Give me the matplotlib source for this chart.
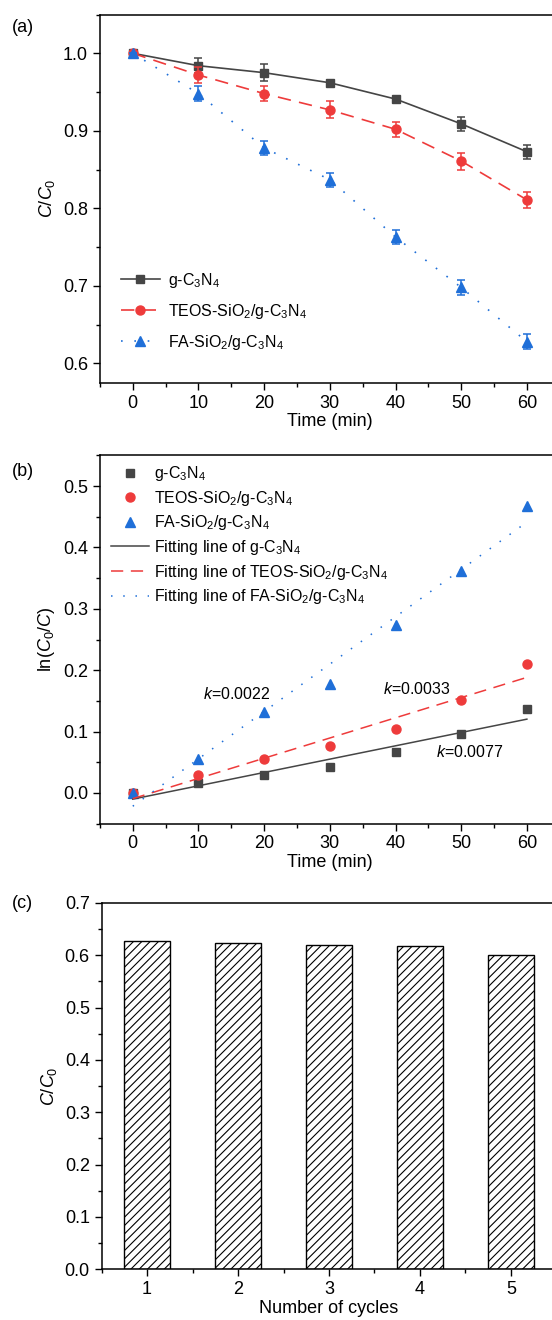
import numpy as np
import matplotlib
matplotlib.use("Agg")
import matplotlib.pyplot as plt
from matplotlib.ticker import MultipleLocator

plt.rcParams["font.family"] = ["Liberation Sans", "DejaVu Sans"]
plt.rcParams["mathtext.fontset"] = "custom"
plt.rcParams["mathtext.rm"] = "Liberation Sans"
plt.rcParams["mathtext.it"] = "Liberation Sans:italic"
plt.rcParams["mathtext.default"] = "regular"
plt.rcParams["hatch.linewidth"] = 0.8

# ---- data ----
time = [0, 10, 20, 30, 40, 50, 60]

# (a) C/C0 vs time
g_c = [1.0, 0.984, 0.975, 0.962, 0.941, 0.909, 0.873]
g_err = [0.0, 0.010, 0.011, 0.003, 0.003, 0.009, 0.009]
teos_c = [1.0, 0.972, 0.948, 0.927, 0.902, 0.861, 0.811]
teos_err = [0.0, 0.010, 0.010, 0.011, 0.010, 0.011, 0.010]
fa_c = [1.0, 0.948, 0.878, 0.837, 0.763, 0.698, 0.628]
fa_err = [0.0, 0.010, 0.009, 0.009, 0.0095, 0.0095, 0.0097]

# (b) ln(C0/C) vs time
g_ln = [0.0, 0.016, 0.029, 0.042, 0.066, 0.096, 0.137]
teos_ln = [0.0, 0.030, 0.055, 0.076, 0.105, 0.151, 0.210]
fa_ln = [0.0, 0.055, 0.132, 0.178, 0.274, 0.362, 0.468]
k_labels = ["0.0022", "0.0033", "0.0077"]

# (c) cycling
cycles = [1, 2, 3, 4, 5]
cycle_c = [0.628, 0.623, 0.619, 0.617, 0.601]

names = [r"g-C$_3$N$_4$", r"TEOS-SiO$_2$/g-C$_3$N$_4$", r"FA-SiO$_2$/g-C$_3$N$_4$"]
colors = ["#454545", "#ee3b3b", "#1f6fd8"]
markers = ["s", "o", "^"]
styles = ["-", (0, (8, 5)), (0, (1, 7))]

fig = plt.figure(figsize=(5.52, 13.2), dpi=100)
ax_a = fig.add_axes([0.181, 0.710, 0.833, 0.279])
ax_b = fig.add_axes([0.181, 0.376, 0.833, 0.279])
ax_c = fig.add_axes([0.184, 0.0384, 0.824, 0.2776])

tick_fs = 13
lab_fs = 13
leg_fs = 11.5


def style_axes(ax):
    for s in ax.spines.values():
        s.set_linewidth(1.1)
    ax.tick_params(which="major", direction="out", length=5, width=1.0, labelsize=tick_fs)
    ax.tick_params(which="minor", direction="out", length=3, width=1.0)


# ---- (a) ----
for y, e, n, c, m, ls in zip([g_c, teos_c, fa_c], [g_err, teos_err, fa_err],
                             names, colors, markers, styles):
    ms = 6.5 if m != "s" else 6
    ax_a.errorbar(time, y, yerr=e, color=c, linestyle="none", capsize=3,
                  elinewidth=1.1, capthick=1.1)
    ax_a.plot(time, y, color=c, marker=m, ms=ms, linestyle=ls, linewidth=1.2,
              label=n)
ax_a.set_xlim(-5, 65)
ax_a.set_ylim(0.575, 1.05)
ax_a.xaxis.set_major_locator(MultipleLocator(10))
ax_a.xaxis.set_minor_locator(MultipleLocator(5))
ax_a.yaxis.set_major_locator(MultipleLocator(0.1))
ax_a.yaxis.set_minor_locator(MultipleLocator(0.05))
ax_a.yaxis.set_major_formatter(plt.FormatStrFormatter("%.1f"))
ax_a.set_xlabel("Time (min)", fontsize=lab_fs, labelpad=1)
ax_a.set_ylabel(r"$\mathit{C}/\mathit{C}_0$", fontsize=lab_fs, labelpad=4)
ax_a.legend(loc="lower left", bbox_to_anchor=(0.015, 0.045), frameon=False,
            fontsize=leg_fs, handlelength=2.4, handletextpad=0.5,
            labelspacing=0.75)
style_axes(ax_a)

# ---- (b) ----
t = np.array(time)
for y, n, c, m in zip([g_ln, teos_ln, fa_ln], names, colors, markers):
    ax_b.plot(time, y, linestyle="none", marker=m, color=c,
              ms=6.5 if m != "s" else 6, label=n)
for y, n, c, ls in zip([g_ln, teos_ln, fa_ln], names, colors, styles):
    p = np.polyfit(t, y, 1)
    ax_b.plot(t, np.polyval(p, t), linestyle=ls, color=c, linewidth=1.1,
              label="Fitting line of " + n)
ax_b.text(10.7, 0.161, r"$\mathit{k}$=" + k_labels[0], fontsize=leg_fs, va="center")
ax_b.text(38.1, 0.170, r"$\mathit{k}$=" + k_labels[1], fontsize=leg_fs, va="center")
ax_b.text(46.2, 0.066, r"$\mathit{k}$=" + k_labels[2], fontsize=leg_fs, va="center")
ax_b.set_xlim(-5, 65)
ax_b.set_ylim(-0.05, 0.55)
ax_b.xaxis.set_major_locator(MultipleLocator(10))
ax_b.xaxis.set_minor_locator(MultipleLocator(5))
ax_b.yaxis.set_major_locator(MultipleLocator(0.1))
ax_b.yaxis.set_minor_locator(MultipleLocator(0.05))
ax_b.yaxis.set_major_formatter(plt.FormatStrFormatter("%.1f"))
ax_b.set_xlabel("Time (min)", fontsize=lab_fs, labelpad=1)
ax_b.set_ylabel(r"ln($\mathit{C}_0$/$\mathit{C}$)", fontsize=lab_fs, labelpad=4)
ax_b.legend(loc="upper left", bbox_to_anchor=(-0.007, 1.015), frameon=False,
            fontsize=leg_fs, handlelength=2.4, handletextpad=0.3,
            labelspacing=0.35)
style_axes(ax_b)

# ---- (c) ----
ax_c.bar(cycles, cycle_c, width=0.5, color="white", edgecolor="black",
         linewidth=1.0, hatch="////")
ax_c.set_xlim(0.5, 5.5)
ax_c.set_ylim(0, 0.7)
ax_c.xaxis.set_major_locator(MultipleLocator(1))
ax_c.xaxis.set_minor_locator(MultipleLocator(0.5))
ax_c.yaxis.set_major_locator(MultipleLocator(0.1))
ax_c.yaxis.set_minor_locator(MultipleLocator(0.05))
ax_c.yaxis.set_major_formatter(plt.FormatStrFormatter("%.1f"))
ax_c.set_xlabel("Number of cycles", fontsize=lab_fs, labelpad=1)
ax_c.set_ylabel(r"$\mathit{C}/\mathit{C}_0$", fontsize=lab_fs, labelpad=4)
style_axes(ax_c)

for lab, ypix in [("(a)", 27), ("(b)", 471), ("(c)", 903)]:
    fig.text(0.022, 1 - ypix / 1320, lab, fontsize=13, va="center", ha="left")

fig.savefig("out.png", dpi=100)
plt.close(fig)
